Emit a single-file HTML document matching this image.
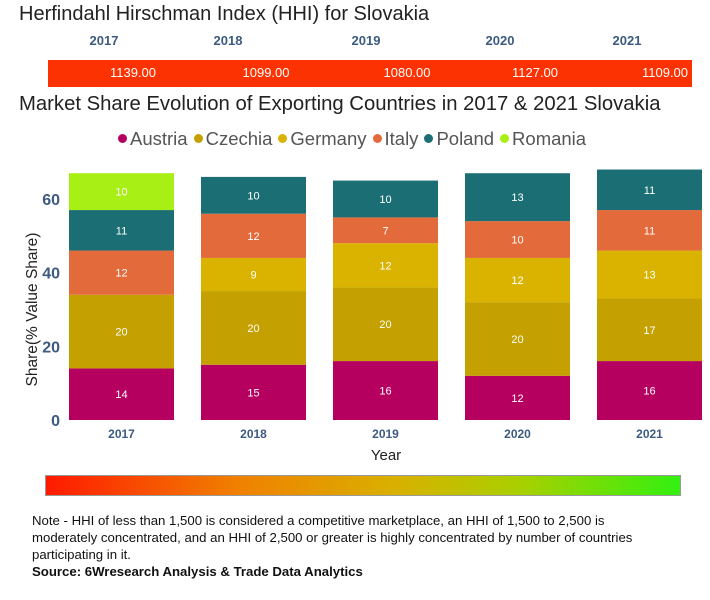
<!DOCTYPE html>
<html><head><meta charset="utf-8"><style>
body{margin:0;width:710px;height:600px;background:#fff;font-family:"Liberation Sans",sans-serif;position:relative;overflow:hidden}
.abs{position:absolute}
</style></head><body>
<div class="abs" style="left:19px;top:3px;font-size:20px;color:#222">Herfindahl Hirschman Index (HHI) for Slovakia</div>
<div class="abs" style="left:48px;top:60px;width:644px;height:27px;background:#fc3202"></div>
<div id="hhi"></div>
<div class="abs" style="left:19px;top:93px;font-size:20.3px;color:#222">Market Share Evolution of Exporting Countries in 2017 &amp; 2021 Slovakia</div>
<div id="legend" class="abs" style="left:118px;top:128px;font-size:18.5px;color:#555;white-space:nowrap"></div>
<svg id="chart" class="abs" style="left:0;top:160px" width="710" height="310"></svg>
<div class="abs" style="left:45px;top:475px;width:634px;height:19px;border:1px solid #999;background:linear-gradient(to right,#ff1a00,#f08000 30%,#d9b000 55%,#a8d000 75%,#33f010)"></div>
<div class="abs" style="left:32px;top:512px;width:657px;font-size:13.2px;line-height:17px;color:#111">Note - HHI of less than 1,500 is considered a competitive marketplace, an HHI of 1,500 to 2,500 is<br>moderately concentrated, and an HHI of 2,500 or greater is highly concentrated by number of countries participating in it.<br><b>Source: 6Wresearch Analysis &amp; Trade Data Analytics</b></div>
<script>
const years=["2017","2018","2019","2020","2021"];
const hhi=["1139.00","1099.00","1080.00","1127.00","1109.00"];
const countries=["Austria","Czechia","Germany","Italy","Poland","Romania"];
const colors=["#b5005f","#c4a000","#d9b300","#e36a3a","#1b6f74","#a8ef16"];
const austria=[14,15,16,12,16];
const czechia=[20,20,20,20,17];
const germany=[0,9,12,12,13];
const italy=[12,12,7,10,11];
const poland=[11,10,10,13,11];
const romania=[10,0,0,0,0];
const series=[austria,czechia,germany,italy,poland,romania];
const yTicks=[0,20,40,60];
const hhiYearX=[104,228,366,500,627], hhiValX=[133,266,407,535,665];
const hhiDiv=document.getElementById('hhi');
years.forEach((y,i)=>{
 const a=document.createElement('div');a.className='abs';
 
 
 a.style.cssText=`left:${hhiYearX[i]-40}px;width:80px;text-align:center;top:33px;font-size:13px;font-weight:bold;color:#3d5a80`;a.textContent=y;hhiDiv.appendChild(a);
 const b=document.createElement('div');b.className='abs';
 
 
 b.style.cssText=`left:${hhiValX[i]-40}px;width:80px;text-align:center;top:65px;font-size:13px;color:#fff`;b.textContent=hhi[i];hhiDiv.appendChild(b);
});
const lg=document.getElementById('legend');
countries.forEach((c,i)=>{
 const s=document.createElement('span');
 
 
 s.style.marginRight='6px';
 s.innerHTML=`<span style="display:inline-block;width:9px;height:9px;border-radius:50%;background:${colors[i]};margin-right:3px;vertical-align:2px"></span>${c}`;
 lg.appendChild(s);
});
const svg=document.getElementById('chart');const NS='http://www.w3.org/2000/svg';
const y0=260, k=221/60;
const yS=v=>y0-v*k;
const xS=i=>69+i*132, bw=105;
function el(t,a,txt){const e=document.createElementNS(NS,t);for(const n in a)e.setAttribute(n,a[n]);if(txt!=null)e.textContent=txt;svg.appendChild(e);return e;}
yTicks.forEach(t=>{const e=el('text',{x:60,y:yS(t)+6,'text-anchor':'end','font-size':16,'font-weight':'bold',fill:'#3d5a80'},t);
 });
const yt=el('text',{x:37,y:yS(30),transform:`rotate(-90 37 ${yS(30)})`,'text-anchor':'middle','font-size':15.5,fill:'#222'},'Share(% Value Share)');

years.forEach((yr,i)=>{
 let cum=0;
 series.forEach((s,j)=>{
  const v=s[i];if(!v)return;
  const r=el('rect',{x:xS(i),y:yS(cum+v),width:bw,height:v*k,fill:colors[j]});
  
  
  const t=el('text',{x:xS(i)+bw/2,y:yS(cum+v/2)+4,'text-anchor':'middle','font-size':11,fill:'#fff'},v);
  
  cum+=v;
 });
 const xl=el('text',{x:xS(i)+bw/2,y:278,'text-anchor':'middle','font-size':12,'font-weight':'bold',fill:'#3d5a80'},yr);
 
});
const xt=el('text',{x:386,y:300,'text-anchor':'middle','font-size':15,fill:'#222'},'Year');

</script>
</body></html>
